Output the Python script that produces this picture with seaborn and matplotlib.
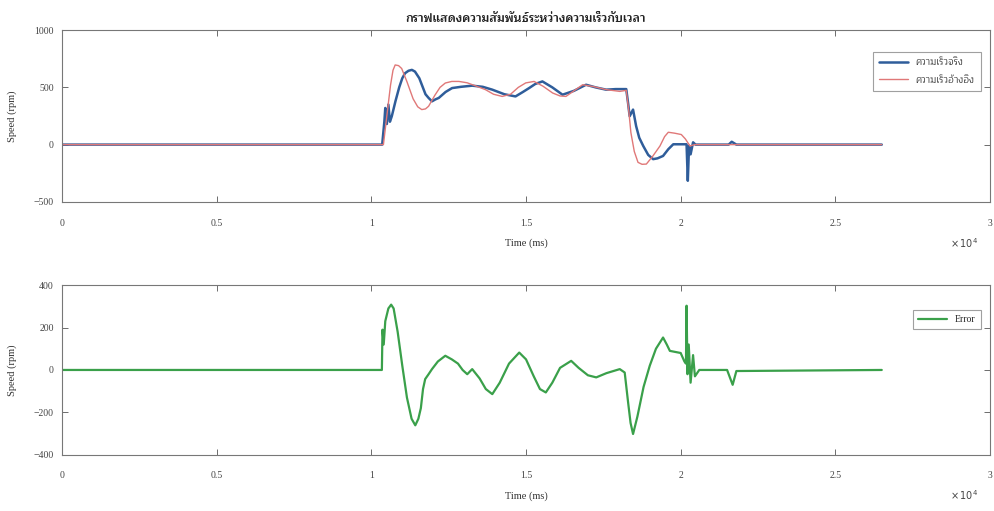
import matplotlib
matplotlib.use('Agg')
import matplotlib.pyplot as plt
import seaborn as sns
import pandas as pd

# ข้อมูล (time in units of 1e4 ms, speed in rpm)
t_ref = [0.0, 1.039, 1.050, 1.062, 1.070, 1.077, 1.088, 1.098, 1.115, 1.135, 1.150, 1.163,
         1.175, 1.185, 1.205, 1.222, 1.239, 1.260, 1.283, 1.310, 1.340, 1.369, 1.395, 1.423,
         1.450, 1.475, 1.499, 1.526, 1.555, 1.586, 1.610, 1.629, 1.655, 1.683, 1.716, 1.760,
         1.803, 1.824, 1.832, 1.839, 1.850, 1.862, 1.875, 1.889, 1.910, 1.933, 1.948, 1.960,
         1.980, 2.002, 2.015, 2.030, 2.045, 2.650]
v_ref = [0, 0, 250, 520, 650, 696, 690, 665, 550, 400, 330, 306,
         312, 335, 430, 500, 538, 552, 552, 540, 510, 480, 440, 421,
         440, 500, 539, 552, 510, 451, 425, 421, 470, 523, 508, 480,
         465, 474, 300, 105, -60, -155, -172, -170, -100, -12, 70, 108,
         100, 88, 50, -12, 0, 0]

t_mot = [0.0, 1.035, 1.042, 1.045, 1.050, 1.055, 1.060, 1.066, 1.078, 1.090, 1.100, 1.109,
         1.120, 1.131, 1.141, 1.155, 1.165, 1.175, 1.185, 1.196, 1.207, 1.218, 1.240, 1.261,
         1.290, 1.326, 1.360, 1.391, 1.430, 1.466, 1.490, 1.510, 1.530, 1.553, 1.585, 1.618,
         1.655, 1.694, 1.725, 1.759, 1.790, 1.824, 1.830, 1.835, 1.846, 1.856, 1.866, 1.879,
         1.895, 1.911, 1.925, 1.943, 1.960, 1.976, 2.019, 2.023, 2.027, 2.032, 2.040, 2.048,
         2.155, 2.165, 2.180, 2.650]
v_mot = [0, 0, 200, 320, 180, 350, 200, 247, 380, 500, 580, 624,
         645, 653, 638, 580, 510, 440, 408, 378, 395, 408, 460, 494,
         505, 515, 505, 480, 440, 421, 460, 494, 530, 552, 500, 436,
         470, 523, 500, 480, 485, 485, 360, 248, 306, 161, 60, -12,
         -90, -127, -120, -99, -40, 3, 3, -316, -10, -85, 20, 0,
         0, 25, 0, 0]

t_err = [0.0, 1.034, 1.036, 1.040, 1.045, 1.055, 1.064, 1.072, 1.085, 1.100, 1.115, 1.130,
         1.142, 1.152, 1.160, 1.167, 1.174, 1.185, 1.196, 1.215, 1.239, 1.260, 1.280, 1.295,
         1.310, 1.326, 1.350, 1.370, 1.391, 1.415, 1.445, 1.478, 1.500, 1.525, 1.545, 1.564,
         1.585, 1.610, 1.646, 1.670, 1.700, 1.727, 1.760, 1.803, 1.819, 1.830, 1.838, 1.846,
         1.860, 1.880, 1.900, 1.920, 1.943, 1.955, 1.965, 2.000, 2.012, 2.017, 2.019, 2.022,
         2.026, 2.032, 2.040, 2.046, 2.060, 2.150, 2.168, 2.180, 2.650]
v_err = [0, 0, 190, 120, 230, 290, 308, 290, 180, 20, -130, -230,
         -261, -230, -180, -90, -43, -20, 4, 40, 67, 50, 30, 0,
         -20, 4, -40, -90, -114, -60, 30, 82, 50, -30, -90, -106,
         -60, 10, 43, 10, -25, -35, -15, 4, -12, -153, -250, -302,
         -220, -80, 20, 100, 153, 120, 90, 80, 40, 30, 303, -20,
         120, -60, 70, -30, 0, 0, -70, -5, 0]

title = 'กราฟแสดงความสัมพันธ์ระหว่างความเร็วกับเวลา'
legend_top = ['ความเร็วจริง', 'ความเร็วอ้างอิง']
legend_bottom = ['Error']

sns.set_style('white')
fonts = ['Liberation Serif', 'Maitree', 'DejaVu Serif']
plt.rcParams['font.family'] = fonts

fig = plt.figure(figsize=(9.94, 5.11), dpi=100)
ax1 = fig.add_axes([0.0624, 0.605, 0.9336, 0.336])
ax2 = fig.add_axes([0.0624, 0.110, 0.9336, 0.332])

df_ref = pd.DataFrame({'t': t_ref, 'v': v_ref})
df_mot = pd.DataFrame({'t': t_mot, 'v': v_mot})
df_err = pd.DataFrame({'t': t_err, 'v': v_err})

sns.lineplot(data=df_mot, x='t', y='v', ax=ax1, color='#2f5d9a', lw=1.8,
             sort=False, estimator=None, label=legend_top[0])
sns.lineplot(data=df_ref, x='t', y='v', ax=ax1, color='#e07878', lw=1.0,
             sort=False, estimator=None, label=legend_top[1])
sns.lineplot(data=df_err, x='t', y='v', ax=ax2, color='#3aa04a', lw=1.6,
             sort=False, estimator=None, label=legend_bottom[0])

for ax, ylim, yt in [(ax1, (-500, 1000), [-500, 0, 500, 1000]),
                     (ax2, (-400, 400), [-400, -200, 0, 200, 400])]:
    ax.set_xlim(0, 3)
    ax.set_ylim(*ylim)
    ax.set_xticks([0, 0.5, 1, 1.5, 2, 2.5, 3])
    ax.set_xticklabels(['0', '0.5', '1', '1.5', '2', '2.5', '3'])
    ax.set_yticks(yt)
    ax.tick_params(direction='in', length=4, width=0.6, colors='#555555',
                   labelsize=7, labelcolor='#444444',
                   bottom=True, left=True, top=True, right=True)
    ax.tick_params(axis='x', pad=12)
    ax.tick_params(axis='y', pad=6)
    for s in ax.spines.values():
        s.set_color('#777777')
        s.set_linewidth(0.8)
    ax.set_xlabel('Time (ms)', fontsize=7.5, color='#333333', labelpad=8)
    ax.set_ylabel('Speed (rpm)', fontsize=7.5, color='#333333', labelpad=12)
    ax.text(0.972, -0.24, r'$\times\,10^4$', transform=ax.transAxes, fontsize=7,
            color='#444444', ha='center', va='center')

ax1.set_title(title, fontsize=8.5, fontweight='bold', color='#222222', pad=6)

leg1 = ax1.legend(loc='upper right', bbox_to_anchor=(0.995, 0.9), fontsize=7,
                  frameon=True, fancybox=False, handlelength=3, borderpad=0.6,
                  labelspacing=0.9)
leg1.get_frame().set_edgecolor('#888888')
leg1.get_frame().set_linewidth(0.8)
leg2 = ax2.legend(loc='upper right', bbox_to_anchor=(0.995, 0.88), fontsize=7,
                  frameon=True, fancybox=False, handlelength=3, borderpad=0.5)
leg2.get_frame().set_edgecolor('#888888')
leg2.get_frame().set_linewidth(0.8)

fig.savefig('out.png', dpi=100)
